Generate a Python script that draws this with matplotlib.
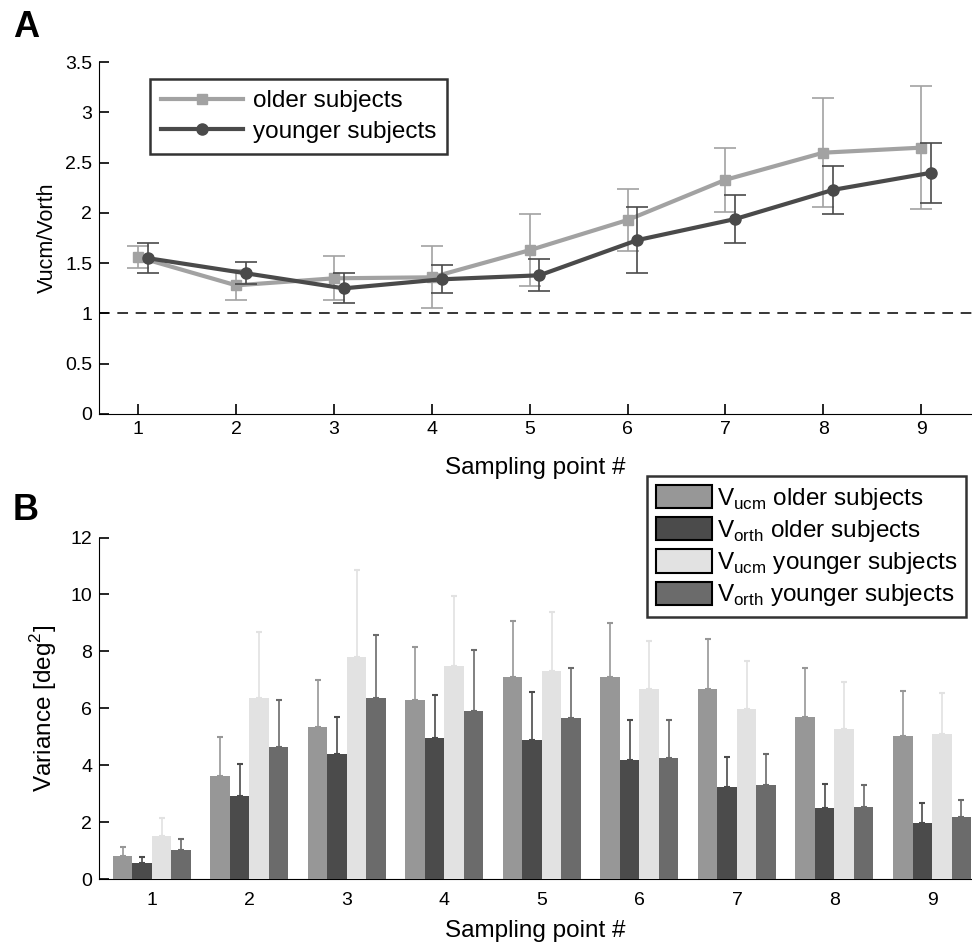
import numpy as np
import matplotlib
matplotlib.use("Agg")
import matplotlib.pyplot as plt
from matplotlib.patches import Patch

plt.rcParams['font.family'] = ['Liberation Sans', 'DejaVu Sans']
plt.rcParams['mathtext.fontset'] = 'custom'
plt.rcParams['mathtext.rm'] = 'Liberation Sans'

# Panel A: Vucm/Vorth ratio
points = [1, 2, 3, 4, 5, 6, 7, 8, 9]
older_ratio = [1.56, 1.28, 1.35, 1.36, 1.63, 1.93, 2.33, 2.60, 2.65]
older_err = [0.11, 0.15, 0.22, 0.31, 0.36, 0.31, 0.32, 0.54, 0.61]
younger_ratio = [1.55, 1.40, 1.25, 1.34, 1.38, 1.73, 1.94, 2.23, 2.40]
younger_err = [0.15, 0.11, 0.15, 0.14, 0.16, 0.33, 0.24, 0.24, 0.30]

# Panel B: variances
vucm_old = [0.83, 3.64, 5.35, 6.31, 7.12, 7.12, 6.67, 5.71, 5.03]
vucm_old_err = [0.32, 1.37, 1.65, 1.86, 1.96, 1.87, 1.77, 1.72, 1.58]
vorth_old = [0.58, 2.94, 4.39, 4.97, 4.89, 4.20, 3.25, 2.49, 1.99]
vorth_old_err = [0.19, 1.11, 1.30, 1.49, 1.70, 1.40, 1.06, 0.86, 0.68]
vucm_young = [1.53, 6.36, 7.82, 7.50, 7.32, 6.67, 5.97, 5.28, 5.09]
vucm_young_err = [0.61, 2.34, 3.04, 2.43, 2.08, 1.71, 1.71, 1.64, 1.46]
vorth_young = [1.03, 4.66, 6.36, 5.92, 5.67, 4.27, 3.31, 2.55, 2.18]
vorth_young_err = [0.37, 1.64, 2.22, 2.13, 1.76, 1.33, 1.08, 0.75, 0.61]

bar_labels = [r'V$_{\mathrm{ucm}}$ older subjects', r'V$_{\mathrm{orth}}$ older subjects',
              r'V$_{\mathrm{ucm}}$ younger subjects', r'V$_{\mathrm{orth}}$ younger subjects']
bar_colors = ['#979797', '#4b4b4b', '#e2e2e2', '#6b6b6b']

fig = plt.figure(figsize=(9.72, 9.43), dpi=100)

# ---- Panel A
ax1 = fig.add_axes([0.102, 0.561, 0.898, 0.373])
x = np.array(points, dtype=float)
ax1.axhline(1, color='black', lw=1.1, ls=(0, (7, 5)), zorder=1)
ax1.errorbar(x, older_ratio, yerr=older_err, color='#a2a2a2', lw=3, marker='s', ms=7,
             elinewidth=1.2, capsize=8, capthick=1.2, label='older subjects', zorder=2)
ax1.errorbar(x + 0.1, younger_ratio, yerr=younger_err, color='#4a4a4a', lw=3, marker='o', ms=8,
             elinewidth=1.2, capsize=8, capthick=1.2, label='younger subjects', zorder=3)
ax1.set_xlim(0.6, 9.52)
ax1.set_ylim(0, 3.5)
ax1.set_xticks(points)
ax1.set_yticks([0, 0.5, 1, 1.5, 2, 2.5, 3, 3.5])
ax1.set_yticklabels(['0', '0.5', '1', '1.5', '2', '2.5', '3', '3.5'])
ax1.spines['top'].set_visible(False)
ax1.spines['right'].set_visible(False)
ax1.tick_params(direction='in', length=7, width=1.2, labelsize=14, pad=5)
ax1.set_ylabel('Vucm/Vorth', fontsize=15.5, labelpad=5)
ax1.set_xlabel('Sampling point #', fontsize=17.5, labelpad=14)
h, l = ax1.get_legend_handles_labels()
h = [hh[0] for hh in h]
leg1 = ax1.legend(h, l, loc='upper left', bbox_to_anchor=(0.058, 0.952), fontsize=17.5,
                  frameon=True, fancybox=False, edgecolor='black', handlelength=3.4,
                  handletextpad=0.4, borderpad=0.45, labelspacing=0.35, borderaxespad=0)
leg1.get_frame().set_linewidth(1.8)
fig.text(0.013, 0.971, 'A', fontsize=26, fontweight='bold', va='center')

# ---- Panel B
ax2 = fig.add_axes([0.102, 0.0675, 0.898, 0.3625])
offsets = [-0.3, -0.1, 0.1, 0.3]
series = [(vucm_old, vucm_old_err), (vorth_old, vorth_old_err),
          (vucm_young, vucm_young_err), (vorth_young, vorth_young_err)]
for (vals, errs), off, col in zip(series, offsets, bar_colors):
    ax2.bar(x + off, vals, width=0.2, color=col, zorder=3)
    ax2.errorbar(x + off, vals, yerr=[np.zeros(len(errs)), errs], fmt='none',
                 ecolor=col, elinewidth=1.2, capsize=2, capthick=1.5, zorder=2)
ax2.set_xlim(0.46, 9.41)
ax2.set_ylim(0, 12)
ax2.set_xticks(points)
ax2.set_yticks([0, 2, 4, 6, 8, 10, 12])
ax2.spines['top'].set_visible(False)
ax2.spines['right'].set_visible(False)
ax2.tick_params(axis='y', direction='in', length=7, width=1.2, labelsize=14, pad=5)
ax2.tick_params(axis='x', length=0, labelsize=14, pad=9)
ax2.set_ylabel('Variance [deg$^2$]', fontsize=17.5, labelpad=8)
ax2.set_xlabel('Sampling point #', fontsize=17.5, labelpad=8)
handles = [Patch(facecolor=c, edgecolor='black', lw=1.5) for c in bar_colors]
leg2 = fig.legend(handles, bar_labels, loc='upper left', bbox_to_anchor=(0.666, 0.495),
                  fontsize=17.5, frameon=True, fancybox=False, edgecolor='black',
                  handlelength=2.3, handleheight=1.1, handletextpad=0.2,
                  borderpad=0.35, labelspacing=0.22, borderaxespad=0)
leg2.get_frame().set_linewidth(1.8)
fig.text(0.013, 0.459, 'B', fontsize=26, fontweight='bold', va='center')

fig.savefig('out.png', dpi=100)
